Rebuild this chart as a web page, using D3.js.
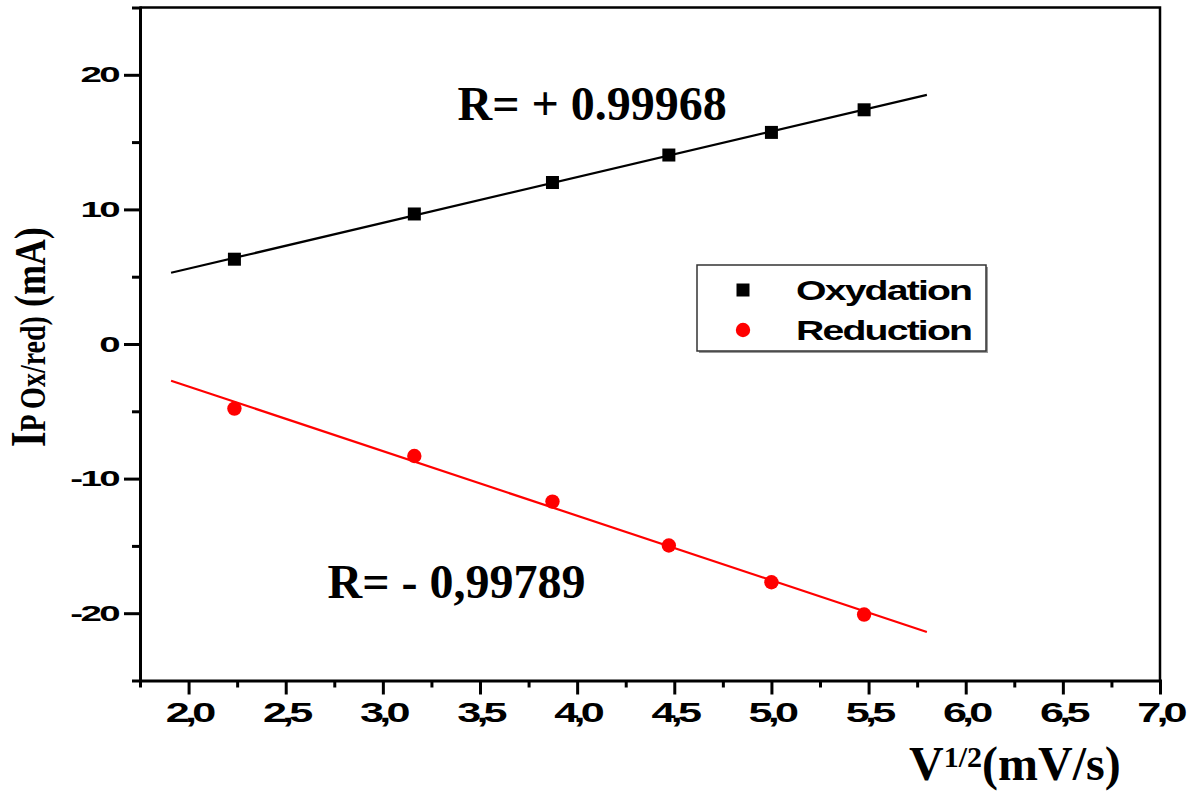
<!DOCTYPE html>
<html>
<head>
<meta charset="utf-8">
<script src="https://cdn.jsdelivr.net/npm/d3@7"></script>
<style>
  html, body { margin: 0; padding: 0; background: #ffffff; }
  svg { display: block; }
</style>
</head>
<body>
<svg id="chart" width="1198" height="792"></svg>
<script>
// Peak currents (mA) against the square root of the scan rate
const sqrtScanRate = [2.236, 3.162, 3.873, 4.472, 5.000, 5.477];
const oxidationCurrent = [6.30, 9.66, 12.00, 14.04, 15.72, 17.40];
const reductionCurrent = [-4.80, -8.32, -11.71, -14.97, -17.70, -20.10];
const seriesNames = ["Oxydation", "Reduction"];
const seriesColors = ["#000000", "#ff0000"];
const fitRange = [1.91, 5.80];
const correlationLabels = ["R= + 0.99968", "R= - 0,99789"];

const xMajorTicks = [2.0, 2.5, 3.0, 3.5, 4.0, 4.5, 5.0, 5.5, 6.0, 6.5, 7.0];
const xTickLabels = ["2,0", "2,5", "3,0", "3,5", "4,0", "4,5", "5,0", "5,5", "6,0", "6,5", "7,0"];
const xMinorTicks = [1.75, 2.25, 2.75, 3.25, 3.75, 4.25, 4.75, 5.25, 5.75, 6.25, 6.75];
const yMajorTicks = [20, 10, 0, -10, -20];
const yTickLabels = ["20", "10", "0", "-10", "-20"];
const yMinorTicks = [25, 15, 5, -5, -15, -25];

const SANS = '"Liberation Sans", Arial, Helvetica, sans-serif';
const SERIF = '"Liberation Serif", "Times New Roman", Times, serif';

const svg = d3.select("#chart");

const x = d3.scaleLinear().domain([1.75, 7.0]).range([140, 1160]);
const y = d3.scaleLinear().domain([-25, 25]).range([680.5, 7.5]);

// text drawn with a horizontal stretch, as in the exported figure
function stretchedText(parent, px, py, str, opt) {
  const g = parent.append("g")
    .attr("transform", `translate(${px},${py}) scale(${opt.sx},1)`);
  return g.append("text")
    .attr("text-anchor", opt.anchor || "start")
    .style("font-family", opt.family || SANS)
    .style("font-weight", "bold")
    .style("font-size", opt.size + "px")
    .style("letter-spacing", (opt.ls || 0) + "px")
    .attr("fill", opt.fill || "#000")
    .text(str);
}

// ---- frame (top and right) ----
svg.append("path")
  .attr("d", `M${x(1.75)},${y(25)}H${x(7.0)}V${y(-25)}`)
  .attr("fill", "none")
  .attr("stroke", "#000")
  .attr("stroke-width", 2.5);

// ---- x axis ----
const xAxisG = svg.append("g").attr("transform", `translate(0,${y(-25)})`);
xAxisG.call(d3.axisBottom(x).tickValues(xMajorTicks).tickSize(14).tickSizeOuter(0).tickFormat(""));
const xMinorG = svg.append("g").attr("transform", `translate(0,${y(-25)})`);
xMinorG.call(d3.axisBottom(x).tickValues(xMinorTicks).tickSize(7).tickSizeOuter(0).tickFormat(""));
xMinorG.select(".domain").remove();

// ---- y axis ----
const yAxisG = svg.append("g").attr("transform", `translate(${x(1.75)},0)`);
yAxisG.call(d3.axisLeft(y).tickValues(yMajorTicks).tickSize(16).tickSizeOuter(0).tickFormat(""));
const yMinorG = svg.append("g").attr("transform", `translate(${x(1.75)},0)`);
yMinorG.call(d3.axisLeft(y).tickValues(yMinorTicks).tickSize(8).tickSizeOuter(0).tickFormat(""));
yMinorG.select(".domain").remove();

svg.selectAll(".domain").attr("stroke", "#000").attr("stroke-width", 3).attr("stroke-linecap", "square");
svg.selectAll(".tick line").attr("stroke", "#000").attr("stroke-width", 3);

// tick labels
xMajorTicks.forEach((t, i) => {
  stretchedText(svg, x(t), 721.5, xTickLabels[i], { size: 27, sx: 1.6, ls: -3, anchor: "middle" });
});
yMajorTicks.forEach((t, i) => {
  stretchedText(svg, 118, y(t) + 7.5, yTickLabels[i], { size: 22, sx: 1.75, ls: -1.5, anchor: "end" });
});

// ---- linear fits ----
function linearFit(xs, ys) {
  const mx = d3.mean(xs), my = d3.mean(ys);
  let sxy = 0, sxx = 0;
  xs.forEach((v, i) => { sxy += (v - mx) * (ys[i] - my); sxx += (v - mx) * (v - mx); });
  const slope = sxy / sxx;
  return v => my + slope * (v - mx);
}
const seriesValues = [oxidationCurrent, reductionCurrent];
const line = d3.line().x(d => x(d[0])).y(d => y(d[1]));

seriesValues.forEach((vals, k) => {
  const f = linearFit(sqrtScanRate, vals);
  svg.append("path")
    .datum(fitRange.map(v => [v, f(v)]))
    .attr("d", line)
    .attr("fill", "none")
    .attr("stroke", seriesColors[k])
    .attr("stroke-width", 2.2);
});

// ---- data points ----
svg.append("g").selectAll("path")
  .data(sqrtScanRate.map((v, i) => [v, oxidationCurrent[i]]))
  .join("path")
  .attr("transform", d => `translate(${x(d[0])},${y(d[1])})`)
  .attr("d", d3.symbol(d3.symbolSquare, 169))
  .attr("fill", seriesColors[0]);

svg.append("g").selectAll("circle")
  .data(sqrtScanRate.map((v, i) => [v, reductionCurrent[i]]))
  .join("circle")
  .attr("cx", d => x(d[0]))
  .attr("cy", d => y(d[1]))
  .attr("r", 7.2)
  .attr("fill", seriesColors[1]);

// ---- correlation annotations ----
const annot = [[457.5, 120], [327.5, 598]];
correlationLabels.forEach((txt, i) => {
  svg.append("text")
    .attr("x", annot[i][0]).attr("y", annot[i][1])
    .style("font-family", SERIF).style("font-weight", "bold").style("font-size", "48px")
    .attr("fill", "#000")
    .text(txt);
});

// ---- legend ----
const legend = svg.append("g");
legend.append("rect")
  .attr("x", 699).attr("y", 267).attr("width", 289).attr("height", 86)
  .attr("fill", "#9a9a9a");
legend.append("rect")
  .attr("x", 697).attr("y", 265).attr("width", 289).attr("height", 86)
  .attr("fill", "#fff").attr("stroke", "#333").attr("stroke-width", 1.5);
legend.append("path")
  .attr("transform", "translate(743,290)")
  .attr("d", d3.symbol(d3.symbolSquare, 169))
  .attr("fill", seriesColors[0]);
legend.append("circle")
  .attr("cx", 743).attr("cy", 330).attr("r", 7.2)
  .attr("fill", seriesColors[1]);
stretchedText(legend, 796, 300, seriesNames[0], { size: 28, sx: 1.4, ls: -1.3 });
stretchedText(legend, 796, 340, seriesNames[1], { size: 28, sx: 1.4, ls: -1.3 });

// ---- axis titles ----
const xt = svg.append("text")
  .attr("x", 909).attr("y", 780)
  .style("font-family", SERIF).style("font-weight", "bold")
  .attr("fill", "#000");
xt.append("tspan").style("font-size", "48px").text("V");
xt.append("tspan").style("font-size", "30px").attr("dy", -13).text("1/2");
xt.append("tspan").style("font-size", "48px").attr("dy", 13).text("(mV/s)");

const yt = svg.append("text")
  .attr("transform", "translate(45,447) rotate(-90) scale(1,1.245)")
  .style("font-family", SERIF).style("font-weight", "bold")
  .attr("fill", "#000");
yt.append("tspan").style("font-size", "40px").text("I");
yt.append("tspan").style("font-size", "28px").text("P Ox/red)");
yt.append("tspan").style("font-size", "36px").text(" (mA)");
</script>
</body>
</html>
